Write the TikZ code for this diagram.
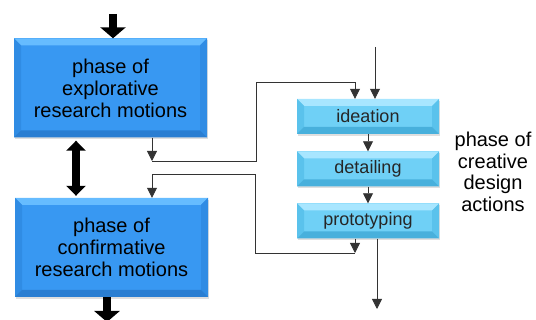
\documentclass[tikz,border=0pt]{standalone}
\usepackage{fontspec}
\setmainfont{Liberation Sans}
\usepackage{tikz}
\usetikzlibrary{arrows.meta,shadows}

\definecolor{bigfill}{HTML}{3898F2}
\definecolor{bigtop}{HTML}{66BCFF}
\definecolor{bigside}{HTML}{308CE4}
\definecolor{bigbot}{HTML}{2A7ED2}
\definecolor{smallfill}{HTML}{6FD0F6}
\definecolor{smalltop}{HTML}{A8E6FF}
\definecolor{smallside}{HTML}{5AC2EC}
\definecolor{smallbot}{HTML}{48B0DC}
\definecolor{linegray}{HTML}{333333}

\tikzset{
  bevel/.style n args={4}{
    path picture={
      \fill[#2] (path picture bounding box.north west) -- (path picture bounding box.north east)
        -- ([shift={(-#1,-#1)}]path picture bounding box.north east) -- ([shift={(#1,-#1)}]path picture bounding box.north west) -- cycle;
      \fill[#3] (path picture bounding box.north west) -- ([shift={(#1,-#1)}]path picture bounding box.north west)
        -- ([shift={(#1,#1)}]path picture bounding box.south west) -- (path picture bounding box.south west) -- cycle;
      \fill[#3] (path picture bounding box.north east) -- ([shift={(-#1,-#1)}]path picture bounding box.north east)
        -- ([shift={(-#1,#1)}]path picture bounding box.south east) -- (path picture bounding box.south east) -- cycle;
      \fill[#4] (path picture bounding box.south west) -- (path picture bounding box.south east)
        -- ([shift={(-#1,#1)}]path picture bounding box.south east) -- ([shift={(#1,#1)}]path picture bounding box.south west) -- cycle;
    }},
  bigbox/.style={fill=bigfill, bevel={7pt}{bigtop}{bigside}{bigbot}, minimum width=193pt, minimum height=99pt,
    inner sep=0pt, align=center, font=\fontsize{20}{22}\selectfont, text=black,
    drop shadow={shadow xshift=1pt, shadow yshift=-2pt, opacity=0.25}},
  smallbox/.style={fill=smallfill, bevel={7pt}{smalltop}{smallside}{smallbot}, minimum width=142pt, minimum height=35pt,
    inner sep=0pt, font=\fontsize{18}{20}\selectfont, text=black!85,
    drop shadow={shadow xshift=1pt, shadow yshift=-2pt, opacity=0.25}},
  arr/.style={draw=linegray, line width=0.8pt, -{Triangle[length=10pt,width=10pt]}},
  fat/.style={line width=8pt, -{Triangle[length=11pt,width=25pt]}},
  fatboth/.style={line width=8pt, {Triangle[length=10pt,width=19pt]}-{Triangle[length=10pt,width=19pt]}}
}

\begin{document}
\begin{tikzpicture}[x=1pt,y=-1pt]
    \useasboundingbox (0,0) rectangle (536,320);

    % Draw the research phases
    \node[bigbox] (explore) at (110.5,88) {phase of\\explorative\\research motions};
    \node[bigbox] (confirm) at (111.5,247.5) {phase of\\confirmative\\research motions};

    % Draw the design actions
    \node[smallbox] (ideation) at (368,116.5) {ideation};
    \node[smallbox] (detailing) at (368,169) {detailing};
    \node[smallbox] (prototyping) at (368,221) {prototyping};

    \node[align=center, font=\fontsize{20}{21.5}\selectfont] (creative) at (493,172)
      {phase of\\creative\\design\\actions};

    % bends and free ends
    \coordinate (topin) at (113,14);
    \coordinate (botout) at (107,322);
    \coordinate (j1) at (152,161);
    \coordinate (b1) at (256,82);
    \coordinate (j2) at (355,253);
    \coordinate (b2) at (255,174);
    \coordinate (in) at (375,47);
    \coordinate (out) at (377,309);

    % thick arrows
    \draw[fat] (topin) -- (topin |- explore.north);
    \draw[fat] (confirm.south -| botout) -- (botout);
    \draw[fatboth, shorten <=3pt, shorten >=2pt] ([xshift=-34.5pt]explore.south) -- ([xshift=-35.5pt]confirm.north);

    % thin arrows
    \draw[arr] (explore.south -| j1) -- (j1);
    \draw[arr] (j1) -| (b1) -| ([xshift=-13pt]ideation.north);
    \draw[arr] (in) -- (in |- ideation.north);
    \draw[arr] (ideation) -- (detailing);
    \draw[arr] (detailing) -- (prototyping);
    \draw[arr] ([xshift=-13pt]prototyping.south) -- (j2);
    \draw[arr] (j2) -| (b2) -| (confirm.north -| j1);
    \draw[arr] (prototyping.south -| out) -- (out);
  \end{tikzpicture}
\end{document}
